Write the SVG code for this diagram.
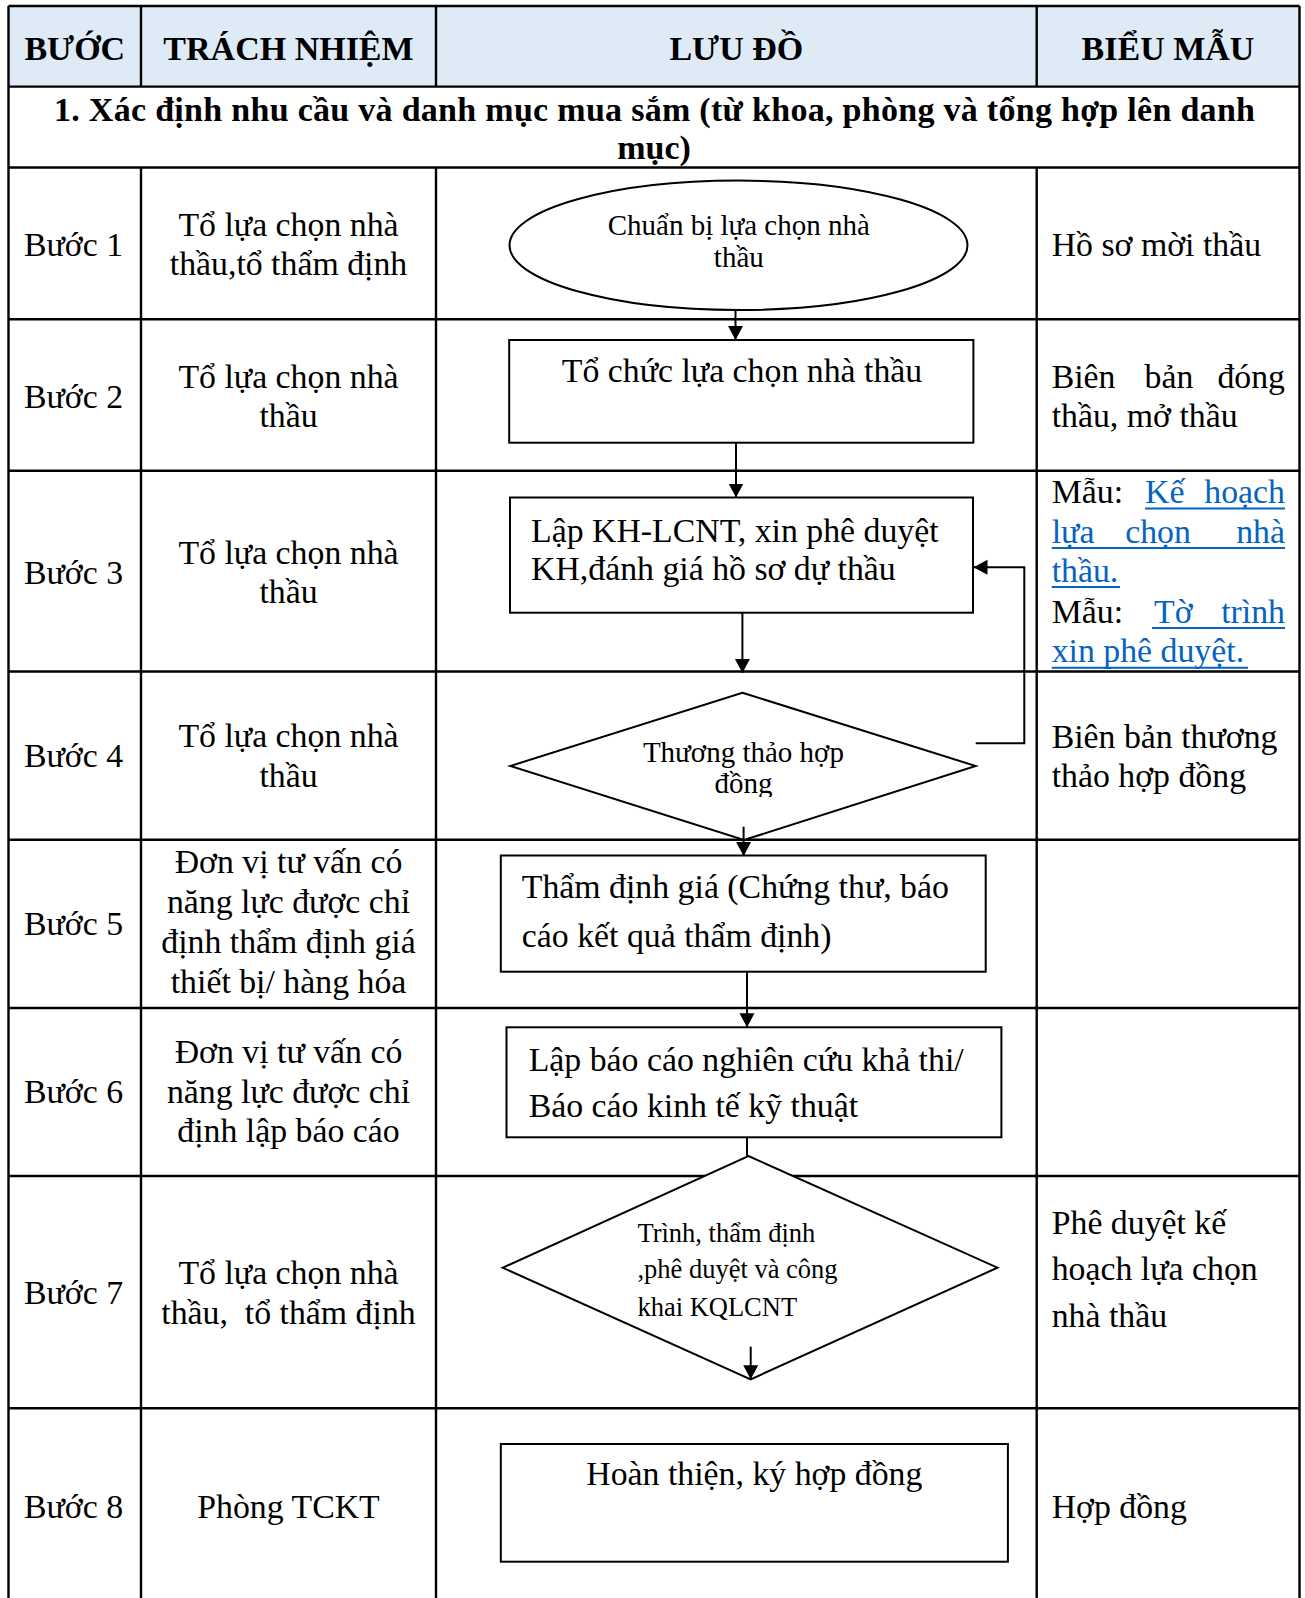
<svg xmlns="http://www.w3.org/2000/svg" width="1305" height="1598" viewBox="0 0 1305 1598">
<style>
.grid{stroke:#000;stroke-width:2.4;fill:none}
.shape{stroke:#000;stroke-width:2;fill:#fff}
.conn{stroke:#000;stroke-width:2;fill:none}
text{font-family:"Liberation Serif","Times New Roman",serif;fill:#000}
.h{font-weight:bold;font-size:34px;text-anchor:middle}
.b{font-size:33.8px}
.c{text-anchor:middle}
.e{text-anchor:end}
.s29{font-size:29px}
.s26{font-size:26.5px}
.lnk{fill:#0563C1}
.ul{stroke:#0563C1;stroke-width:2}
</style>
<defs>
<marker id="ah" markerUnits="userSpaceOnUse" markerWidth="14" markerHeight="16" viewBox="0 0 14 16" refX="14" refY="8" orient="auto">
<path d="M0,0.5 L14,8 L0,15.5 z" fill="#000"/>
</marker>
<clipPath id="clipD4"><rect x="500" y="690" width="480" height="107"/></clipPath>
</defs>
<rect width="1305" height="1598" fill="#fff"/>

<g id="table">
<rect x="8.5" y="6" width="1291" height="80.6" fill="#DEEAF6"/>
<path class="grid" d="M8.5,6H1299.5 M8.5,86.6H1299.5 M8.5,167.5H1299.5 M8.5,319.3H1299.5 M8.5,470.7H1299.5 M8.5,671.5H1299.5 M8.5,839.7H1299.5 M8.5,1008H1299.5 M8.5,1176H1299.5 M8.5,1408.3H1299.5 M8.5,6V1598 M1299.5,6V1598 M141,6V86.6 M141,167.5V1598 M436,6V86.6 M436,167.5V1598 M1036.7,6V86.6 M1036.7,167.5V1598"/>
<text class="h" x="74.8" y="60">BƯỚC</text>
<text class="h" x="288.5" y="60">TRÁCH NHIỆM</text>
<text class="h" x="736.3" y="60">LƯU ĐỒ</text>
<text class="h" x="1168" y="60">BIỂU MẪU</text>
<text class="h" x="654.5" y="121" textLength="1201" lengthAdjust="spacing">1. Xác định nhu cầu và danh mục mua sắm (từ khoa, phòng và tổng hợp lên danh</text>
<text class="h" x="654" y="159">mục)</text>
</g>

<g id="col-buoc">
<text class="b c" x="73.5" y="256">Bước 1</text>
<text class="b c" x="73.5" y="408.3">Bước 2</text>
<text class="b c" x="73.5" y="584">Bước 3</text>
<text class="b c" x="73.5" y="767.3">Bước 4</text>
<text class="b c" x="73.5" y="935">Bước 5</text>
<text class="b c" x="73.5" y="1103.3">Bước 6</text>
<text class="b c" x="73.5" y="1304">Bước 7</text>
<text class="b c" x="73.5" y="1518.3">Bước 8</text>
</g>

<g id="col-trachnhiem">
<text class="b c" x="288.5" y="236">Tổ lựa chọn nhà</text>
<text class="b c" x="288.5" y="275">thầu,tổ thẩm định</text>
<text class="b c" x="288.5" y="388.3">Tổ lựa chọn nhà</text>
<text class="b c" x="288.5" y="427.3">thầu</text>
<text class="b c" x="288.5" y="564">Tổ lựa chọn nhà</text>
<text class="b c" x="288.5" y="603.3">thầu</text>
<text class="b c" x="288.5" y="747.3">Tổ lựa chọn nhà</text>
<text class="b c" x="288.5" y="786.7">thầu</text>
<text class="b c" x="288.5" y="873.3">Đơn vị tư vấn có</text>
<text class="b c" x="288.5" y="913">năng lực được chỉ</text>
<text class="b c" x="288.5" y="953">định thẩm định giá</text>
<text class="b c" x="288.5" y="993">thiết bị/ hàng hóa</text>
<text class="b c" x="288.5" y="1063.3">Đơn vị tư vấn có</text>
<text class="b c" x="288.5" y="1102.7">năng lực được chỉ</text>
<text class="b c" x="288.5" y="1141.7">định lập báo cáo</text>
<text class="b c" x="288.5" y="1284">Tổ lựa chọn nhà</text>
<text class="b c" x="288.5" y="1324" xml:space="preserve">thầu,  tổ thẩm định</text>
<text class="b c" x="288.5" y="1518.3">Phòng TCKT</text>
</g>

<g id="col-bieumau">
<text class="b" x="1051.7" y="256">Hồ sơ mời thầu</text>
<text class="b" x="1051.7" y="388.3">Biên</text>
<text class="b c" x="1169" y="388.3">bản</text>
<text class="b e" x="1285" y="388.3">đóng</text>
<text class="b" x="1051.7" y="427.3">thầu, mở thầu</text>
<text class="b" x="1051.7" y="503.3">Mẫu:</text>
<text class="b lnk" x="1145" y="503.3">Kế</text>
<text class="b lnk e" x="1285" y="503.3">hoạch</text>
<text class="b lnk" x="1051.7" y="542.7">lựa</text>
<text class="b lnk c" x="1158" y="542.7">chọn</text>
<text class="b lnk e" x="1285" y="542.7">nhà</text>
<text class="b lnk" x="1051.7" y="581.7">thầu.</text>
<text class="b" x="1051.7" y="622.7">Mẫu:</text>
<text class="b lnk" x="1154" y="622.7">Tờ</text>
<text class="b lnk e" x="1285" y="622.7">trình</text>
<text class="b lnk" x="1051.7" y="662.3">xin phê duyệt.</text>
<path class="ul" d="M1145,508.5H1285 M1051.7,548H1285 M1051.7,587H1120 M1152,628H1285 M1051.7,667.8H1248"/>
<text class="b" x="1051.7" y="748.3">Biên bản thương</text>
<text class="b" x="1051.7" y="787.3">thảo hợp đồng</text>
<text class="b" x="1051.7" y="1234">Phê duyệt kế</text>
<text class="b" x="1051.7" y="1280">hoạch lựa chọn</text>
<text class="b" x="1051.7" y="1326.7">nhà thầu</text>
<text class="b" x="1051.7" y="1518.3">Hợp đồng</text>
</g>

<g id="n1-ellipse">
<ellipse class="shape" cx="738.5" cy="245.3" rx="229" ry="64.7"/>
<text class="s29 c" x="738.8" y="235">Chuẩn bị lựa chọn nhà</text>
<text class="s29 c" x="738.8" y="266.7">thầu</text>
</g>

<g id="n2-rect">
<rect class="shape" x="509.2" y="340" width="464.2" height="102.7"/>
<text class="b c" x="742" y="381.7">Tổ chức lựa chọn nhà thầu</text>
</g>

<g id="n3-rect">
<rect class="shape" x="510" y="497.5" width="463" height="115.2"/>
<text class="b" x="531" y="541.7">Lập KH-LCNT, xin phê duyệt</text>
<text class="b" x="531" y="580">KH,đánh giá hồ sơ dự thầu</text>
</g>

<g id="n4-diamond">
<polygon class="shape" points="742.4,692.7 975.7,766 744,840 510.3,766"/>
<g clip-path="url(#clipD4)">
<text class="s29 c" x="743.4" y="761.7">Thương thảo hợp</text>
<text class="s29 c" x="743.4" y="793.3">đồng</text>
</g>
</g>

<g id="n5-rect">
<rect class="shape" x="500.8" y="855.5" width="484.9" height="116.2"/>
<text class="b" x="521.8" y="898.3">Thẩm định giá (Chứng thư, báo</text>
<text class="b" x="521.8" y="946.7">cáo kết quả thẩm định)</text>
</g>

<g id="n6-rect">
<rect class="shape" x="506.5" y="1027.3" width="494.9" height="110"/>
<text class="b" x="528.7" y="1070.7">Lập báo cáo nghiên cứu khả thi/</text>
<text class="b" x="528.7" y="1117.3">Báo cáo kinh tế kỹ thuật</text>
</g>

<g id="n7-diamond">
<polygon class="shape" points="748.4,1156 997.5,1267.7 750.7,1379.3 502.7,1267.7"/>
<text class="s26" x="637.4" y="1242.3">Trình, thẩm định</text>
<text class="s26" x="637.4" y="1278.3">,phê duyệt và công</text>
<text class="s26" x="637.4" y="1315.7">khai KQLCNT</text>
</g>

<g id="n8-rect">
<rect class="shape" x="500.8" y="1444" width="507.1" height="117.7"/>
<text class="b c" x="754.3" y="1485">Hoàn thiện, ký hợp đồng</text>
</g>

<g id="connectors">
<line class="conn" x1="735.5" y1="310" x2="735.5" y2="340" marker-end="url(#ah)"/>
<line class="conn" x1="736" y1="442.7" x2="736" y2="497.5" marker-end="url(#ah)"/>
<line class="conn" x1="742.4" y1="612.7" x2="742.4" y2="673" marker-end="url(#ah)"/>
<polyline class="conn" points="975.7,743.3 1024.3,743.3 1024.3,567.3 973.5,567.3" marker-end="url(#ah)"/>
<line class="conn" x1="743.6" y1="826.7" x2="743.6" y2="856" marker-end="url(#ah)"/>
<line class="conn" x1="747" y1="971.7" x2="747" y2="1027.3" marker-end="url(#ah)"/>
<line class="conn" x1="747" y1="1137.3" x2="747" y2="1156"/>
<line class="conn" x1="750.7" y1="1346.7" x2="750.7" y2="1379.3" marker-end="url(#ah)"/>
</g>
</svg>
